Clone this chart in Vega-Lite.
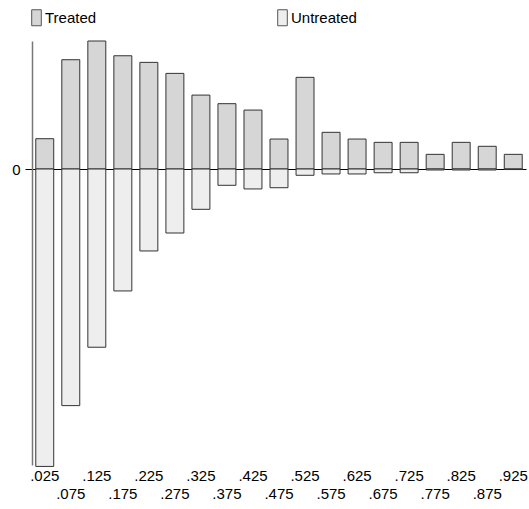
{
  "$schema": "https://vega.github.io/schema/vega-lite/v6.json",
  "autosize": "none",
  "width": 494,
  "height": 424,
  "padding": {"left": 32, "top": 41, "right": 3, "bottom": 44},
  "background": "white",
  "config": {
    "view": {"stroke": null},
    "font": "Liberation Sans",
    "axis": {"labelFont": "Liberation Sans", "labelColor": "#000", "labelFontSize": 15},
    "legend": {"labelFont": "Liberation Sans", "labelColor": "#000", "labelFontSize": 15}
  },
  "data": {
    "values": [
      {"bin": ".025", "group": "Treated", "density": 2.75},
      {"bin": ".075", "group": "Treated", "density": 9.92},
      {"bin": ".125", "group": "Treated", "density": 11.62},
      {"bin": ".175", "group": "Treated", "density": 10.28},
      {"bin": ".225", "group": "Treated", "density": 9.68},
      {"bin": ".275", "group": "Treated", "density": 8.68},
      {"bin": ".325", "group": "Treated", "density": 6.71},
      {"bin": ".375", "group": "Treated", "density": 5.93},
      {"bin": ".425", "group": "Treated", "density": 5.35},
      {"bin": ".475", "group": "Treated", "density": 2.72},
      {"bin": ".525", "group": "Treated", "density": 8.32},
      {"bin": ".575", "group": "Treated", "density": 3.33},
      {"bin": ".625", "group": "Treated", "density": 2.72},
      {"bin": ".675", "group": "Treated", "density": 2.42},
      {"bin": ".725", "group": "Treated", "density": 2.42},
      {"bin": ".775", "group": "Treated", "density": 1.33},
      {"bin": ".825", "group": "Treated", "density": 2.42},
      {"bin": ".875", "group": "Treated", "density": 2.06},
      {"bin": ".925", "group": "Treated", "density": 1.33},
      {"bin": ".025", "group": "Untreated", "density": -27.0},
      {"bin": ".075", "group": "Untreated", "density": -21.48},
      {"bin": ".125", "group": "Untreated", "density": -16.18},
      {"bin": ".175", "group": "Untreated", "density": -11.07},
      {"bin": ".225", "group": "Untreated", "density": -7.44},
      {"bin": ".275", "group": "Untreated", "density": -5.81},
      {"bin": ".325", "group": "Untreated", "density": -3.66},
      {"bin": ".375", "group": "Untreated", "density": -1.48},
      {"bin": ".425", "group": "Untreated", "density": -1.81},
      {"bin": ".475", "group": "Untreated", "density": -1.70},
      {"bin": ".525", "group": "Untreated", "density": -0.57},
      {"bin": ".575", "group": "Untreated", "density": -0.45},
      {"bin": ".625", "group": "Untreated", "density": -0.45},
      {"bin": ".675", "group": "Untreated", "density": -0.34},
      {"bin": ".725", "group": "Untreated", "density": -0.34},
      {"bin": ".775", "group": "Untreated", "density": -0.09},
      {"bin": ".825", "group": "Untreated", "density": -0.09},
      {"bin": ".875", "group": "Untreated", "density": -0.09},
      {"bin": ".925", "group": "Untreated", "density": -0.05}
    ]
  },
  "mark": {"type": "bar", "stroke": "#333", "strokeWidth": 1},
  "encoding": {
    "x": {
      "field": "bin",
      "type": "ordinal",
      "sort": null,
      "scale": {"paddingInner": 0.31, "paddingOuter": 0.145},
      "axis": {
        "title": null,
        "domain": false,
        "ticks": false,
        "labelAngle": 0,
        "labelOverlap": false,
        "labelBound": false,
        "labelBaseline": "top",
        "labelPadding": {
          "condition": {"test": "indexof(['.075','.175','.275','.375','.475','.575','.675','.775','.875'], datum.value) >= 0", "value": 21},
          "value": 3
        }
      }
    },
    "y": {
      "field": "density",
      "type": "quantitative",
      "stack": null,
      "scale": {"domain": [-26.87, 11.62], "nice": false, "zero": true},
      "axis": {
        "title": null,
        "values": [0],
        "format": "d",
        "tickSize": 7,
        "tickColor": "#000",
        "labelPadding": 5,
        "domainColor": "#777",
        "domainWidth": 1.5,
        "grid": true,
        "gridColor": "#000",
        "gridOpacity": 1,
        "gridWidth": 1
      }
    },
    "fill": {
      "field": "group",
      "type": "nominal",
      "scale": {"domain": ["Treated", "Untreated"], "range": ["#d6d6d6", "#eeeeee"]},
      "legend": {
        "title": null,
        "orient": "none",
        "legendX": -4,
        "legendY": -32,
        "direction": "horizontal",
        "columns": 2,
        "columnPadding": 177,
        "symbolType": "M-0.6,-1H0.6V1H-0.6Z",
        "symbolSize": 256,
        "symbolStrokeColor": "#555",
        "symbolStrokeWidth": 1,
        "symbolOpacity": 1,
        "labelOffset": 0
      }
    }
  }
}
